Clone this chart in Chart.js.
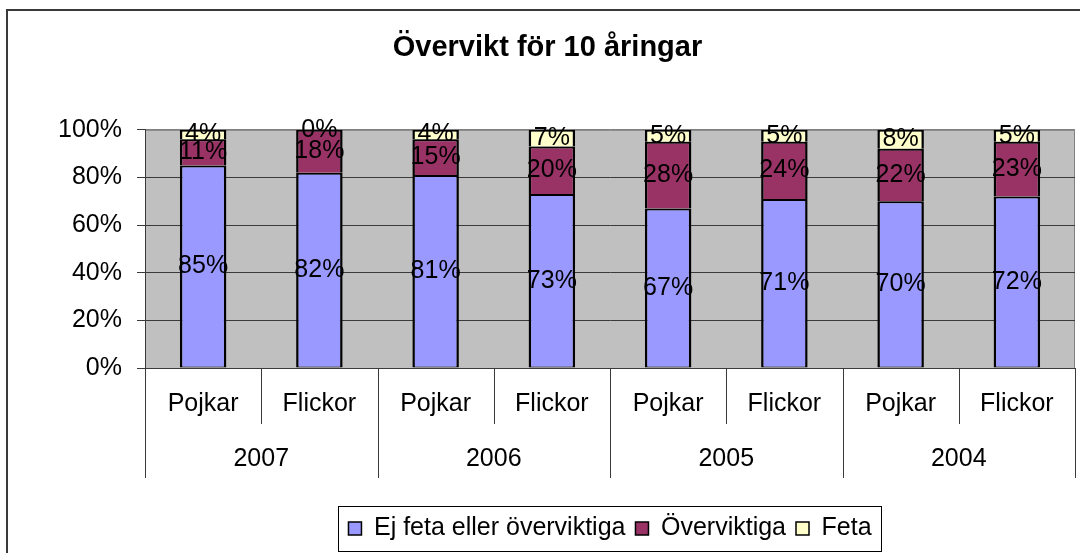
<!DOCTYPE html>
<html><head><meta charset="utf-8">
<script src="https://cdn.jsdelivr.net/npm/chart.js@4.4.0/dist/chart.umd.min.js"></script>
<style>html,body{margin:0;padding:0;background:#fff;overflow:hidden}</style>
</head><body>
<canvas id="c" width="1080" height="553"></canvas>
<script>
const categories = ['Pojkar','Flickor','Pojkar','Flickor','Pojkar','Flickor','Pojkar','Flickor'];
const years = ['2007','2006','2005','2004'];
const ejFeta = [85,82,81,73,67,71,70,72];
const overviktiga = [11,18,15,20,28,24,22,23];
const feta = [4,0,4,7,5,5,8,5];
const yTicks = [0,20,40,60,80,100];
const seriesNames = ['Ej feta eller överviktiga','Överviktiga','Feta'];
const titleText = 'Övervikt för 10 åringar';

const FONT = "'Liberation Sans', Arial, sans-serif";
const colors = ['#9999FF','#993366','#FFFFCC'];

const framePlugin = {
  id: 'frame',
  beforeDraw(chart) {
    const ctx = chart.ctx, a = chart.chartArea;
    ctx.save();
    ctx.fillStyle = '#fff';
    ctx.fillRect(0,0,chart.width,chart.height);
    ctx.strokeStyle = '#3a3a3a';
    ctx.lineWidth = 2;
    ctx.strokeRect(7, 10, 1300, 1000);
    ctx.fillStyle = '#C0C0C0';
    ctx.fillRect(a.left, a.top, a.right - a.left, a.bottom - a.top);
    ctx.strokeStyle = '#808080';
    ctx.lineWidth = 1;
    ctx.beginPath();
    ctx.moveTo(a.left, a.top + 0.5); ctx.lineTo(a.right - 0.5, a.top + 0.5); ctx.lineTo(a.right - 0.5, a.bottom);
    ctx.stroke();
    ctx.restore();
  }
};

const labelsPlugin = {
  id: 'segLabels',
  afterDatasetsDraw(chart) {
    const ctx = chart.ctx;
    ctx.save();
    ctx.font = '25px ' + FONT;
    ctx.fillStyle = '#000';
    ctx.textAlign = 'center';
    ctx.textBaseline = 'middle';
    chart.data.datasets.forEach((ds, di) => {
      const meta = chart.getDatasetMeta(di);
      meta.data.forEach((el, i) => {
        const p = el.getProps(['x','y','base'], true);
        ctx.fillText(ds.data[i] + '%', p.x, (p.y + p.base) / 2);
      });
    });
    ctx.restore();
  },
  afterDraw(chart) {
    const ctx = chart.ctx, xs = chart.scales.x, a = chart.chartArea;
    ctx.save();
    ctx.strokeStyle = '#3a3a3a';
    ctx.lineWidth = 1;
    for (let i = 0; i <= categories.length; i++) {
      const bx = Math.round(xs.getPixelForValue(i - 0.5)) + 0.5;
      const len = (i % 2 === 0) ? 110 : 56;
      ctx.beginPath(); ctx.moveTo(bx, a.bottom); ctx.lineTo(bx, a.bottom + len); ctx.stroke();
    }
    ctx.font = '25px ' + FONT;
    ctx.fillStyle = '#000';
    ctx.textAlign = 'center';
    ctx.textBaseline = 'middle';
    categories.forEach((c, i) => ctx.fillText(c, xs.getPixelForValue(i), a.bottom + 36));
    years.forEach((y, j) => ctx.fillText(y, xs.getPixelForValue(2 * j + 0.5), a.bottom + 91));
    const lg = chart.legend;
    if (lg && lg.legendHitBoxes && lg.legendHitBoxes.length) {
      const hb = lg.legendHitBoxes;
      const first = hb[0], last = hb[hb.length - 1];
      const l = first.left - 10, r = last.left + last.width + 10;
      const t = first.top - 10, b = first.top + first.height + 10;
      ctx.strokeStyle = '#000';
      ctx.lineWidth = 1;
      ctx.strokeRect(Math.round(l) + 0.5, Math.round(t) + 0.5, Math.round(r - l), Math.round(b - t));
    }
    ctx.restore();
  }
};

const bw0 = {top: 2, left: 2.5, right: 2.5, bottom: 1};
const bw = {top: 2, left: 2.5, right: 2.5, bottom: 0};

new Chart(document.getElementById('c'), {
  type: 'bar',
  data: {
    labels: categories,
    datasets: [
      {label: seriesNames[0], data: ejFeta, backgroundColor: colors[0], borderColor: '#000', borderWidth: bw0, borderSkipped: false, inflateAmount: 0},
      {label: seriesNames[1], data: overviktiga, backgroundColor: colors[1], borderColor: '#000', borderWidth: bw, borderSkipped: false, inflateAmount: 0},
      {label: seriesNames[2], data: feta, backgroundColor: colors[2], borderColor: '#000', borderWidth: bw, borderSkipped: false, inflateAmount: 0}
    ]
  },
  options: {
    responsive: false,
    animation: false,
    devicePixelRatio: 1,
    categoryPercentage: 1,
    barPercentage: 0.4,
    layout: {padding: {left: 20, right: 5, top: 0, bottom: 2}},
    plugins: {
      tooltip: {enabled: false},
      title: {
        display: true, text: titleText, color: '#000',
        font: {family: FONT, size: 29, weight: 'bold', lineHeight: 1.2},
        padding: {top: 31, bottom: 64}
      },
      legend: {
        position: 'bottom', fullSize: false,
        labels: {
          color: '#000', font: {family: FONT, size: 25},
          boxWidth: 13, boxHeight: 13, padding: 10,
          generateLabels: (chart) => chart.data.datasets.map((ds, i) => ({
            text: ds.label, fillStyle: ds.backgroundColor, strokeStyle: '#000', lineWidth: 1.5,
            datasetIndex: i, hidden: false
          }))
        }
      }
    },
    scales: {
      x: {
        stacked: true, offset: true,
        grid: {display: false},
        ticks: {display: false},
        border: {display: true, color: '#3a3a3a', width: 1},
        afterFit: (s) => { s.height = 138; }
      },
      y: {
        stacked: true, min: 0, max: 100,
        afterBuildTicks: (s) => { s.ticks = yTicks.map(v => ({value: v})); },
        ticks: {color: '#000', font: {family: FONT, size: 25}, padding: 15, callback: (v) => v + '%'},
        grid: {
          color: (c) => (c.tick && c.tick.value === 100) ? '#808080' : '#3a3a3a',
          tickColor: '#3a3a3a', tickLength: 8, lineWidth: 1
        },
        border: {display: true, color: '#3a3a3a', width: 1},
        afterFit: (s) => { s.width = 125; }
      }
    }
  },
  plugins: [framePlugin, labelsPlugin]
});
</script>
</body></html>
